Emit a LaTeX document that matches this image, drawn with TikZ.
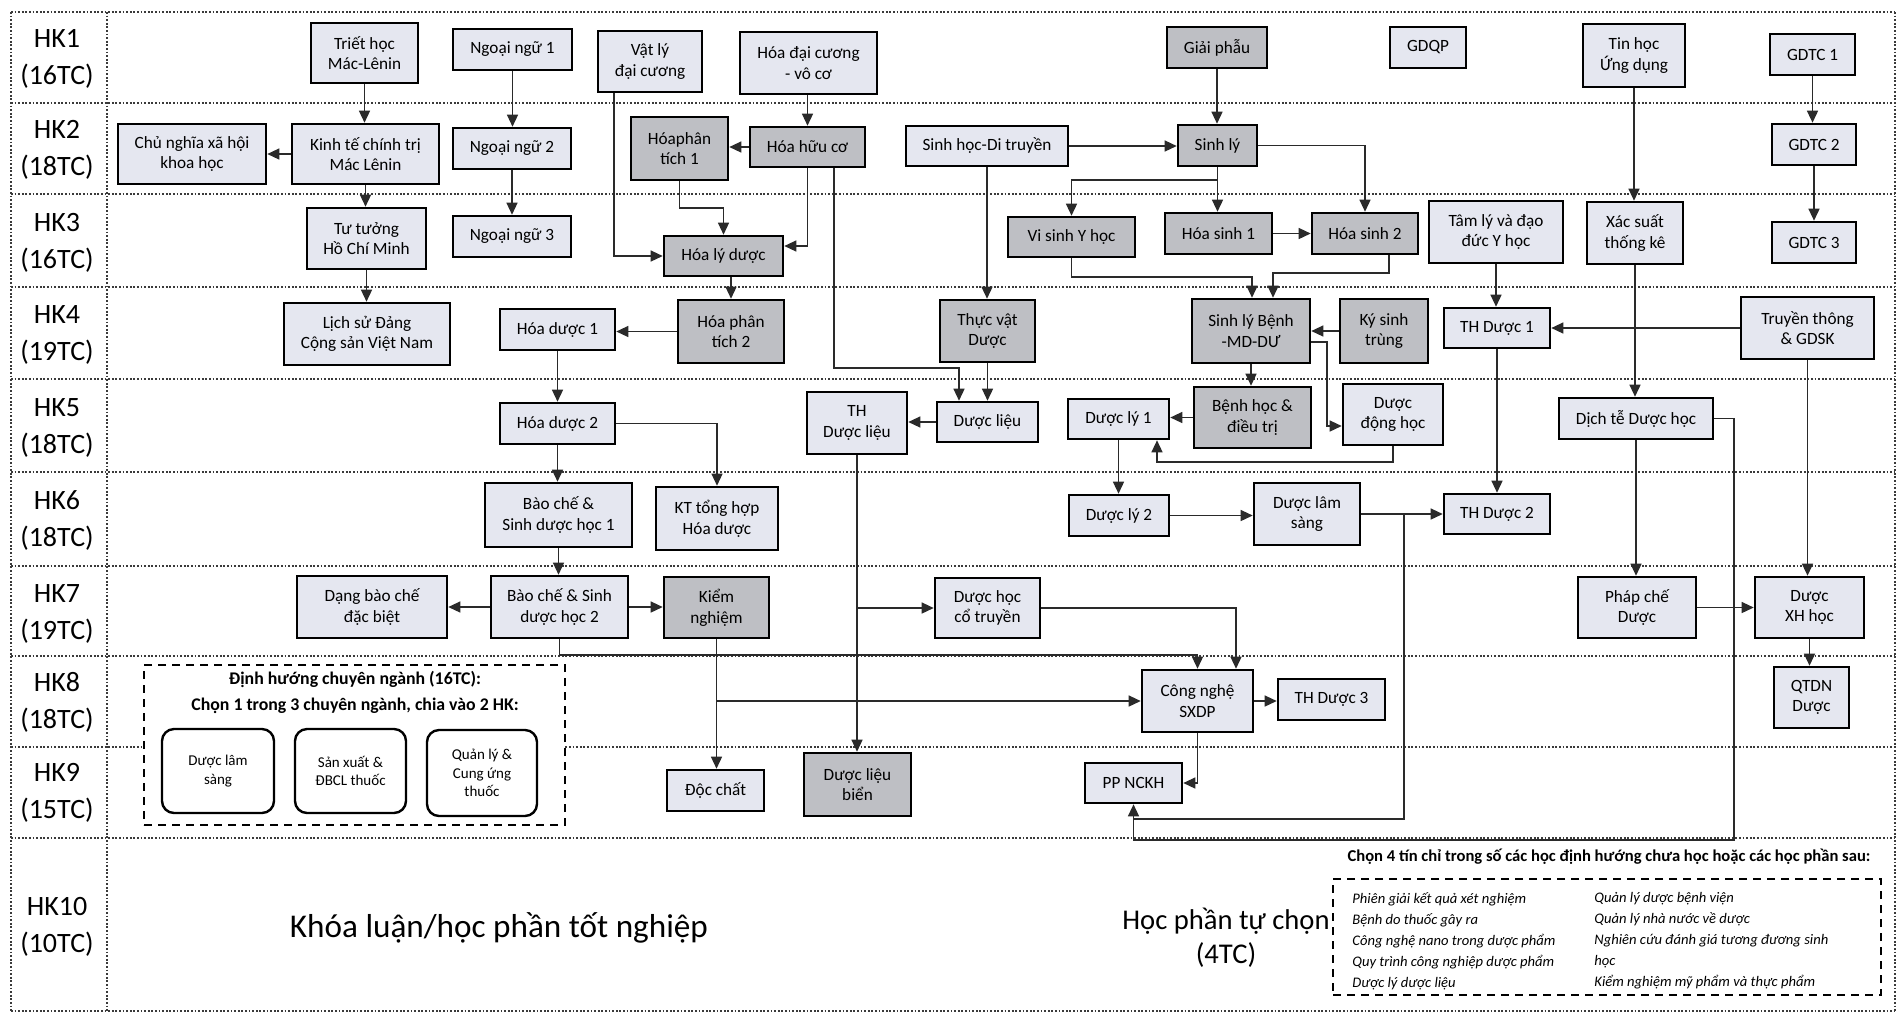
\documentclass[tikz,border=0pt]{standalone}
\usepackage{fontspec}
\setmainfont{Carlito}
\usetikzlibrary{arrows.meta}
\definecolor{boxlight}{HTML}{E5E7F0}
\definecolor{boxdark}{HTML}{BEBFC4}
\definecolor{linecol}{HTML}{2A2A2A}
\definecolor{gridcol}{HTML}{3A3A3A}
\begin{document}
\begin{tikzpicture}[x=0.5pt,y=-0.5pt,
  box/.style={draw=black,line width=1.3pt,fill=boxlight,align=center,inner sep=1pt,font=\fontsize{8.6}{10.3}\selectfont},
  dbox/.style={box,fill=boxdark},
  arr/.style={draw=linecol,line width=0.65pt,-{Triangle[length=6pt,width=5.5pt]}},
  ln/.style={draw=linecol,line width=0.65pt},
  rowline/.style={draw=gridcol,line width=1pt,dash pattern=on 0.9pt off 0.9pt},
  hk/.style={align=center,font=\fontsize{14}{18.5}\selectfont},
  rbox/.style={draw=black,line width=1.2pt,fill=white,rounded corners=6pt,align=center,inner sep=1pt,font=\fontsize{7.5}{9.2}\selectfont},
]
\useasboundingbox (0,0) rectangle (1898,1014);
\fill[white] (0,0) rectangle (1898,1014);

% grid
\foreach \yy in {12,103,194,287,379,472,566,656,747,838,1011} \draw[rowline] (11,\yy) -- (1895,\yy);
\foreach \xx in {11,107,1895} \draw[rowline] (\xx,12) -- (\xx,1011);

% semester labels
\node[hk] (l1) at (57,59) {HK1\\(16TC)};
\node[hk] (l2) at (57,150) {HK2\\(18TC)};
\node[hk] (l3) at (57,243) {HK3\\(16TC)};
\node[hk] (l4) at (57,335) {HK4\\(19TC)};
\node[hk] (l5) at (57,428) {HK5\\(18TC)};
\node[hk] (l6) at (57,520) {HK6\\(18TC)};
\node[hk] (l7) at (57,614) {HK7\\(19TC)};
\node[hk] (l8) at (57,702) {HK8\\(18TC)};
\node[hk] (l9) at (57,793) {HK9\\(15TC)};
\node[hk] (l10) at (57,927) {HK10\\(10TC)};

% HK1
\node[box,minimum width=53.5pt,minimum height=30pt] (trie) at (364.5,53) {Triết học\\Mác-Lênin};
\node[box,minimum width=59.5pt,minimum height=20.5pt] (nn1) at (512.5,49.5) {Ngoại ngữ 1};
\node[box,minimum width=52pt,minimum height=30.5pt] (vly) at (650,61.5) {Vật lý\\đại cương};
\node[box,minimum width=68.5pt,minimum height=31pt] (hdc) at (808.5,63) {Hóa đại cương\\- vô cơ};
\node[dbox,minimum width=50pt,minimum height=20.5pt] (gp) at (1217,47.5) {Giải phẫu};
\node[box,minimum width=38pt,minimum height=20.5pt] (gdqp) at (1428,47.5) {GDQP};
\node[box,minimum width=51pt,minimum height=31.5pt] (thud) at (1634,55.5) {Tin học\\Ứng dụng};
\node[box,minimum width=42.5pt,minimum height=20.5pt] (gdtc1) at (1812.5,54.5) {GDTC 1};
% HK2
\node[box,minimum width=74pt,minimum height=30pt] (cnxh) at (192,154) {Chủ nghĩa xã hội\\khoa học};
\node[box,minimum width=73.5pt,minimum height=30pt] (ktct) at (365.5,154) {Kinh tế chính trị\\Mác Lênin};
\node[box,minimum width=59pt,minimum height=20.5pt] (nn2) at (512,148.5) {Ngoại ngữ 2};
\node[dbox,minimum width=48.5pt,minimum height=31.5pt] (hpt1) at (679.5,148.5) {Hóaphân\\tích 1};
\node[dbox,minimum width=57.5pt,minimum height=20pt] (hhc) at (807.5,147) {Hóa hữu cơ};
\node[box,minimum width=81pt,minimum height=20pt] (shdt) at (987,146) {Sinh học-Di truyền};
\node[dbox,minimum width=39.5pt,minimum height=20.5pt] (sl) at (1217.5,145.5) {Sinh lý};
\node[box,minimum width=42pt,minimum height=20.5pt] (gdtc2) at (1814,144.5) {GDTC 2};
% HK3
\node[box,minimum width=59.5pt,minimum height=30.5pt] (tthcm) at (366.5,238.5) {Tư tưởng\\Hồ Chí Minh};
\node[box,minimum width=59pt,minimum height=20.5pt] (nn3) at (512,236.5) {Ngoại ngữ 3};
\node[dbox,minimum width=59.5pt,minimum height=20pt] (hld) at (723.5,256) {Hóa lý dược};
\node[dbox,minimum width=63.5pt,minimum height=20pt] (vsyh) at (1071.5,237) {Vi sinh Y học};
\node[dbox,minimum width=53.5pt,minimum height=20.5pt] (hs1) at (1218.5,233.5) {Hóa sinh 1};
\node[dbox,minimum width=53pt,minimum height=20.5pt] (hs2) at (1365,233.5) {Hóa sinh 2};
\node[box,minimum width=67pt,minimum height=31pt] (tlyd) at (1496,232) {Tâm lý và đạo\\đức Y học};
\node[box,minimum width=48pt,minimum height=31pt] (xstk) at (1635,233) {Xác suất\\thống kê};
\node[box,minimum width=42pt,minimum height=20.5pt] (gdtc3) at (1814,242.5) {GDTC 3};
% HK4
\node[box,minimum width=83pt,minimum height=31pt] (lsd) at (367,334) {Lịch sử Đảng\\Cộng sản Việt Nam};
\node[box,minimum width=57.5pt,minimum height=20.5pt] (hd1) at (557.5,329.5) {Hóa dược 1};
\node[dbox,minimum width=53pt,minimum height=31.5pt] (hpt2) at (731,331.5) {Hóa phân\\tích 2};
\node[dbox,minimum width=47.5pt,minimum height=31pt] (tvd) at (987.5,331) {Thực vật\\Dược};
\node[dbox,minimum width=59pt,minimum height=32pt] (slb) at (1251,331) {Sinh lý Bệnh\\-MD-DƯ};
\node[dbox,minimum width=44pt,minimum height=32pt] (kst) at (1384,331) {Ký sinh\\trùng};
\node[box,minimum width=53pt,minimum height=20pt] (thd1) at (1497,328) {TH Dược 1};
\node[box,minimum width=66.5pt,minimum height=31pt] (ttgdsk) at (1807.5,328) {Truyền thông\\\& GDSK};
% HK5
\node[box,minimum width=57.5pt,minimum height=20.5pt] (hd2) at (557.5,423.5) {Hóa dược 2};
\node[box,minimum width=50pt,minimum height=31pt] (thdl) at (857,423) {TH\\Dược liệu};
\node[box,minimum width=50.5pt,minimum height=20pt] (dl) at (987.5,422) {Dược liệu};
\node[box,minimum width=50.5pt,minimum height=20pt] (dly1) at (1118.5,419) {Dược lý 1};
\node[dbox,minimum width=58.5pt,minimum height=30.5pt] (bhdt) at (1252.5,417.5) {Bệnh học \&\\điều trị};
\node[box,minimum width=50pt,minimum height=30.5pt] (ddh) at (1393,414.5) {Dược\\động học};
\node[box,minimum width=77pt,minimum height=20.5pt] (dtdh) at (1636,418.5) {Dịch tễ Dược học};
% HK6
\node[box,minimum width=73.5pt,minimum height=32pt] (bc1) at (558.5,515) {Bào chế \&\\Sinh dược học 1};
\node[box,minimum width=61pt,minimum height=31.5pt] (kth) at (717,518.5) {KT tổng hợp\\Hóa dược};
\node[box,minimum width=50pt,minimum height=20.5pt] (dly2) at (1119,515.5) {Dược lý 2};
\node[box,minimum width=53pt,minimum height=31pt] (dls) at (1307,514) {Dược lâm\\sàng};
\node[box,minimum width=53pt,minimum height=20pt] (thd2) at (1497,514) {TH Dược 2};
% HK7
\node[box,minimum width=75pt,minimum height=31pt] (dbc) at (372,607) {Dạng bào chế\\đặc biệt};
\node[box,minimum width=68.5pt,minimum height=31pt] (bc2) at (559.5,607) {Bào chế \& Sinh\\dược học 2};
\node[dbox,minimum width=52.5pt,minimum height=30.5pt] (kn) at (716.5,607.5) {Kiểm\\nghiệm};
\node[box,minimum width=52.5pt,minimum height=30pt] (dhct) at (987.5,608) {Dược học\\cổ truyền};
\node[box,minimum width=59pt,minimum height=30.5pt] (pcd) at (1637,607.5) {Pháp chế\\Dược};
\node[box,minimum width=54.5pt,minimum height=30.5pt] (dxh) at (1809.5,607.5) {Dược\\XH học};
% HK8
\node[box,minimum width=55.5pt,minimum height=31pt] (cnsx) at (1197.5,701) {Công nghệ\\SXDP};
\node[box,minimum width=53.5pt,minimum height=20.5pt] (thd3) at (1331.5,699.5) {TH Dược 3};
\node[box,minimum width=37.5pt,minimum height=30.5pt] (qtdn) at (1811.5,697.5) {QTDN\\Dược};
% HK9
\node[box,minimum width=48.5pt,minimum height=20.5pt] (dc) at (715.5,790.5) {Độc chất};
\node[dbox,minimum width=53.5pt,minimum height=31.5pt] (dlb) at (857.5,784.5) {Dược liệu\\biển};
\node[box,minimum width=48.5pt,minimum height=20pt] (ppnckh) at (1133.5,783) {PP NCKH};

% specialisation box
\node[draw=black,line width=0.9pt,dash pattern=on 4pt off 3pt,fill=white,minimum width=210.5pt,minimum height=80pt,inner sep=0pt] (spec) at (354.5,745) {};
\node[font=\bfseries\fontsize{8.9}{10}\selectfont] (spect1) at (355,679) {Định hướng chuyên ngành (16TC):};
\node[font=\bfseries\fontsize{8.9}{10}\selectfont] (spect2) at (355,706) {Chọn 1 trong 3 chuyên ngành, chia vào 2 HK:};
\node[rbox,minimum width=56pt,minimum height=42pt] (sp1) at (218,771) {Dược lâm\\sàng};
\node[rbox,minimum width=55.5pt,minimum height=42pt] (sp2) at (350.5,771) {Sản xuất \&\\ĐBCL thuốc};
\node[rbox,minimum width=55pt,minimum height=43pt] (sp3) at (482,773) {Quản lý \&\\Cung ứng\\thuốc};

% HK10
\node[font=\fontsize{16.6}{19}\selectfont] (kl) at (499,928) {Khóa luận/học phần tốt nghiệp};
\node[align=center,font=\fontsize{14.3}{17}\selectfont] (tc) at (1226,938) {Học phần tự chọn\\(4TC)};
\node[font=\bfseries\fontsize{8.3}{9}\selectfont] (tct) at (1609,857) {Chọn 4 tín chỉ trong số các học định hướng chưa học hoặc các học phần sau:};
\node[draw=black,line width=0.9pt,dash pattern=on 4pt off 3pt,minimum width=274pt,minimum height=58pt,inner sep=0pt] (el) at (1607,937) {};
\node[anchor=north west,align=left,inner sep=0pt,font=\itshape\fontsize{7.3}{10.5}\selectfont] (elc1) at (1352,892) {Phiên giải kết quả xét nghiệm\\Bệnh do thuốc gây ra\\Công nghệ nano trong dược phẩm\\Quy trình công nghiệp dược phẩm\\Dược lý dược liệu};
\node[anchor=north west,align=left,inner sep=0pt,font=\itshape\fontsize{7.3}{10.5}\selectfont] (elc2) at (1594,892) {Quản lý dược bệnh viện\\Quản lý nhà nước về dược\\Nghiên cứu đánh giá tương đương sinh\\học\\Kiểm nghiệm mỹ phẩm và thực phẩm};

% helper coordinates
\coordinate (x614) at (614,0);
\coordinate (x834) at (834,0);
\coordinate (x959) at (959,0);
\coordinate (x1157) at (1157,0);
\coordinate (x1236) at (1236,0);
\coordinate (x1252) at (1252,0);
\coordinate (x1273) at (1273,0);
\coordinate (x1327) at (1327,0);
\coordinate (x1389) at (1389,0);
\coordinate (x1404) at (1404,0);
\coordinate (x1734) at (1734,0);
\coordinate (y180) at (0,180);
\coordinate (y208) at (0,208);
\coordinate (y273) at (0,273);
\coordinate (y277) at (0,277);
\coordinate (y368) at (0,368);
\coordinate (y462) at (0,462);
\coordinate (y655) at (0,655);
\coordinate (y819) at (0,819);
\coordinate (y838) at (0,840);
\coordinate (ddhin) at ([yshift=-5.75pt]ddh.west);

% connectors
\draw[arr] (trie.south) -- (trie.south |- ktct.north);
\draw[arr] (ktct.west) -- (ktct.west -| cnxh.east);
\draw[arr] (ktct.south) -- (ktct.south |- tthcm.north);
\draw[arr] (tthcm.south) -- (tthcm.south |- lsd.north);
\draw[arr] (nn1.south) -- (nn1.south |- nn2.north);
\draw[arr] (nn2.south) -- (nn2.south |- nn3.north);
\draw[arr] (vly.south -| x614) |- (hld.west);
\draw[arr] (hdc.south -| hhc.north) -- (hhc.north);
\draw[arr] (hhc.west) -- (hhc.west -| hpt1.east);
\draw[arr] (hpt1.south) |- (y208 -| hld.north) -- (hld.north);
\draw[arr] (hhc.south) |- ([yshift=5pt]hld.east);
\draw[arr] (hhc.south -| x834) |- (y368 -| x959) -- (dl.north -| x959);
\draw[arr] (shdt.south) -- (shdt.south |- tvd.north);
\draw[arr] (tvd.south) -- (tvd.south |- dl.north);
\draw[arr] (dl.west) -- (dl.west -| thdl.east);
\draw[arr] (hld.south -| hpt2.north) -- (hpt2.north);
\draw[arr] (hpt2.west) -- (hpt2.west -| hd1.east);
\draw[arr] (hd1.south) -- (hd1.south |- hd2.north);
\draw[arr] (hd2.east) -| (kth.north);
\draw[arr] (hd2.south) -- (hd2.south |- bc1.north);
\draw[arr] (bc1.south) -- (bc1.south |- bc2.north);
\draw[arr] (bc2.west) -- (bc2.west -| dbc.east);
\draw[arr] (bc2.east) -- (bc2.east -| kn.west);
\draw[arr] (bc2.south) |- (y655 -| cnsx.north) -- (cnsx.north);
\draw[arr] (kn.south) -- (kn.south |- dc.north);
\draw[arr] (kn.south |- cnsx.west) -- (cnsx.west);
\draw[arr] (thdl.south) -- (thdl.south |- dlb.north);
\draw[arr] (thdl.south |- dhct.west) -- (dhct.west);
\draw[arr] (dhct.east) -| (x1236 |- cnsx.north);
\draw[arr] (cnsx.east) -- (cnsx.east -| thd3.west);
\draw[arr] (cnsx.south) |- (ppnckh.east);
\draw[arr] (gp.south) -- (gp.south |- sl.north);
\draw[arr] (shdt.east) -- (shdt.east -| sl.west);
\draw[arr] (sl.south) -- (sl.south |- hs1.north);
\draw[arr] (sl.south |- y180) -| (vsyh.north);
\draw[arr] (sl.east) -| (hs2.north);
\draw[arr] (hs1.east) -- (hs1.east -| hs2.west);
\draw[arr] (vsyh.south) |- (y277 -| x1252) -- (slb.north -| x1252);
\draw[arr] (hs2.south -| x1389) |- (y273 -| x1273) -- (slb.north -| x1273);
\draw[arr] (kst.west) -- (kst.west -| slb.east);
\draw[arr] ([yshift=-5.5pt]slb.east) -| (x1327 |- ddhin) -- (ddhin);
\draw[arr] (slb.south) -- (slb.south |- bhdt.north);
\draw[arr] (bhdt.west) -- (bhdt.west -| dly1.east);
\draw[arr] (ddh.south) |- (y462 -| x1157) -- (dly1.south -| x1157);
\draw[arr] (dly1.south) -- (dly1.south |- dly2.north);
\draw[arr] (dly2.east) -- (dly2.east -| dls.west);
\draw[arr] (dls.east) -- (dls.east -| thd2.west);
\draw[ln] (x1404 |- dls.east) |- (y819 -| ppnckh.south);
\draw[arr] (dtdh.east) -| (x1734 |- y838) -| (ppnckh.south);
\draw[arr] (tlyd.south) -- (tlyd.south |- thd1.north);
\draw[arr] (ttgdsk.west) -- (ttgdsk.west -| thd1.east);
\draw[arr] (thd1.south) -- (thd1.south |- thd2.north);
\draw[arr] (thud.south) -- (thud.south |- xstk.north);
\draw[arr] (xstk.south) -- (xstk.south |- dtdh.north);
\draw[arr] (dtdh.south) -- (dtdh.south |- pcd.north);
\draw[arr] (pcd.east) -- (pcd.east -| dxh.west);
\draw[arr] (ttgdsk.south) -- (ttgdsk.south |- dxh.north);
\draw[arr] (dxh.south) -- (dxh.south |- qtdn.north);
\draw[arr] (gdtc1.south) -- (gdtc1.south |- gdtc2.north);
\draw[arr] (gdtc2.south) -- (gdtc2.south |- gdtc3.north);
\end{tikzpicture}
\end{document}
